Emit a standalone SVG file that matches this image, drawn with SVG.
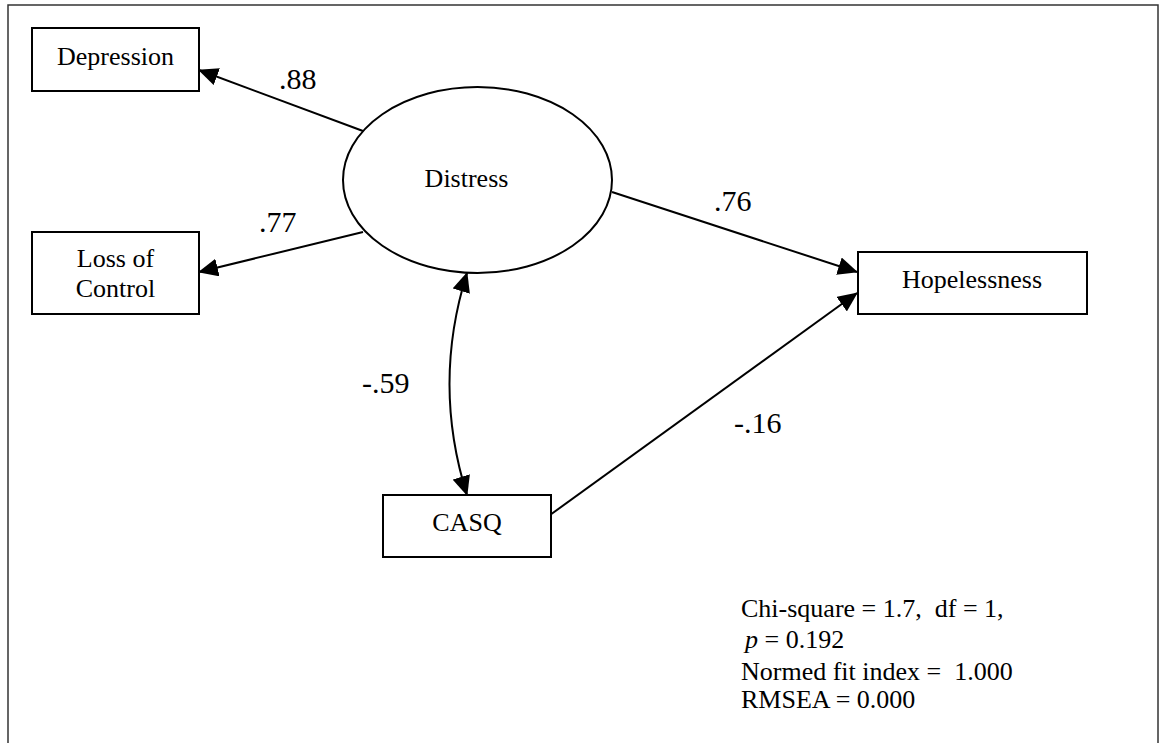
<svg xmlns="http://www.w3.org/2000/svg" width="1164" height="743" viewBox="0 0 1164 743">
<style>
.frame{fill:none;stroke:#333;stroke-width:1.5}
.box{fill:#fff;stroke:#000;stroke-width:2}
.t{font-family:"Liberation Serif","Times New Roman",serif;font-size:26px;fill:#000;text-anchor:middle}
.n{font-family:"Liberation Serif","Times New Roman",serif;font-size:30px;fill:#000}
.fit{font-family:"Liberation Serif","Times New Roman",serif;font-size:26px;fill:#000;white-space:pre}
.c{fill:none;stroke:#000;stroke-width:2}
</style>
<defs>
<marker id="ah" viewBox="0 0 20 18" refX="19" refY="9" markerWidth="20" markerHeight="18" markerUnits="userSpaceOnUse" orient="auto-start-reverse">
<path d="M0,0 L20,9 L0,18 z" fill="#000"/>
</marker>
</defs>
<rect width="1164" height="743" fill="#fff"/>
<rect class="frame" x="8" y="5" width="1150" height="760"/>
<g id="connectors">
<path class="c" d="M363,131 L199,70" marker-end="url(#ah)"/>
<path class="c" d="M363,232 L199,272" marker-end="url(#ah)"/>
<path class="c" d="M612,192 L857,272" marker-end="url(#ah)"/>
<path class="c" d="M550,515 L857,293" marker-end="url(#ah)"/>
<path class="c" d="M467,273 Q432,384 467,495" marker-start="url(#ah)" marker-end="url(#ah)"/>
<text class="n" x="279" y="89">.88</text>
<text class="n" x="259" y="232">.77</text>
<text class="n" x="714" y="211">.76</text>
<text class="n" x="362" y="393">-.59</text>
<text class="n" x="734" y="433">-.16</text>
</g>
<g id="depression">
<rect class="box" x="32" y="28" width="167" height="63"/>
<text class="t" x="115.5" y="65">Depression</text>
</g>
<g id="loss-of-control">
<rect class="box" x="32" y="232" width="167" height="82"/>
<text class="t" x="115.5" y="267">Loss of</text>
<text class="t" x="115.5" y="297">Control</text>
</g>
<g id="distress">
<ellipse cx="477.5" cy="180" rx="134.5" ry="93" fill="#fff" stroke="#000" stroke-width="2"/>
<text class="t" x="466.5" y="187">Distress</text>
</g>
<g id="hopelessness">
<rect class="box" x="858" y="252" width="229" height="62"/>
<text class="t" x="972" y="288">Hopelessness</text>
</g>
<g id="casq">
<rect class="box" x="383" y="495" width="168" height="62"/>
<text class="t" x="467" y="531">CASQ</text>
</g>
<g id="fit-stats">
<text class="fit" x="741" y="617">Chi-square = 1.7,  df = 1,</text>
<text class="fit" x="745" y="648"><tspan font-style="italic">p</tspan> = 0.192</text>
<text class="fit" x="741" y="680">Normed fit index =  1.000</text>
<text class="fit" x="741" y="708">RMSEA = 0.000</text>
</g>
</svg>
